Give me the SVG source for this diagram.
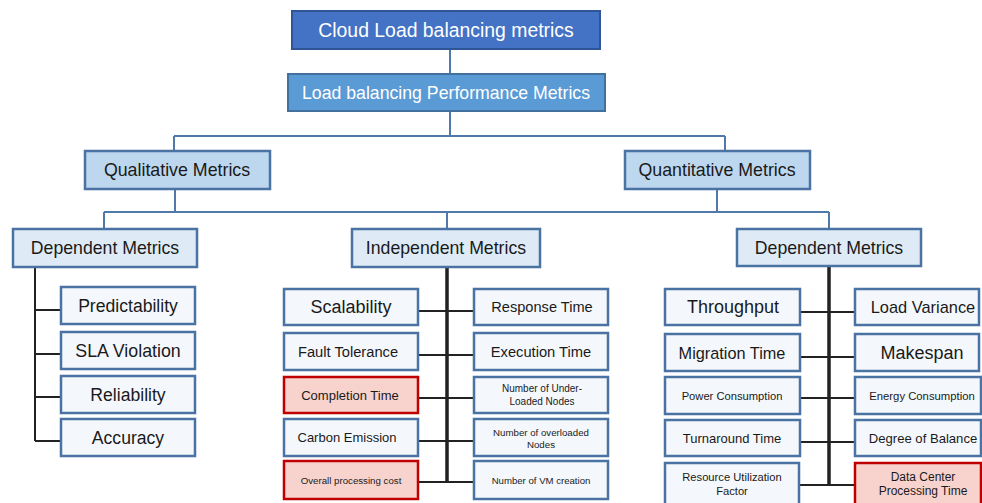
<svg xmlns="http://www.w3.org/2000/svg" width="982" height="503" viewBox="0 0 982 503">
<style>
text{font-family:"Liberation Sans",Arial,sans-serif;fill:#1a1a1a;text-anchor:middle;dominant-baseline:central}
.l0{fill:#4472c4;stroke:#2f5597;stroke-width:2}
.l1{fill:#5b9bd5;stroke:#41719c;stroke-width:2}
.l2{fill:#bdd7ee;stroke:#4a72a3;stroke-width:2.5}
.l3{fill:#deebf7;stroke:#4a72a3;stroke-width:2.5}
.lf{fill:#f4f8fc;stroke:#4a72a3;stroke-width:2.5}
.pk{fill:#f8d3ce;stroke:#c00000;stroke-width:2.5}
.w{fill:#fff}
.cb{fill:none;stroke:#4f79a8;stroke-width:2}
.cd{fill:none;stroke:#222;stroke-width:2}
.tr{fill:none;stroke:#222;stroke-width:3.5}
</style>
<g id="connectors">
<path class="cb" d="M450 49V74M450 111V136M174 136H725M174 136V151M725 136V151"/>
<path class="cb" d="M175 189V212M717 189V212M104 212H829M104 212V229M447 212V229M829 212V229"/>
<path class="cd" d="M35 267V441M35 310H61M35 354H61M35 397H61M35 441H61"/>
<path class="tr" d="M447 267V483M829 266V485"/>
<path class="cd" d="M418 311H474M418 355H474M418 398H474M418 441H474M418 482H474"/>
<path class="cd" d="M800 312H855M800 357H855M800 398H855M800 442H855M800 485H855"/>
</g>
<g id="n-cloud"><rect class="l0" x="292" y="11" width="308" height="38"/><text class="w" x="446" y="30" font-size="19.4">Cloud Load balancing metrics</text></g>
<g id="n-perf"><rect class="l1" x="288" y="74" width="317" height="37"/><text class="w" x="446" y="92.5" font-size="17.7">Load balancing Performance Metrics</text></g>
<g id="n-qual"><rect class="l2" x="85" y="151" width="185" height="38"/><text x="177" y="170" font-size="17.8">Qualitative Metrics</text></g>
<g id="n-quant"><rect class="l2" x="625" y="151" width="185" height="38"/><text x="717" y="170" font-size="17.8">Quantitative Metrics</text></g>
<g id="n-dep1"><rect class="l3" x="13" y="229" width="184" height="38"/><text x="105" y="248" font-size="17.7">Dependent Metrics</text></g>
<g id="n-indep"><rect class="l3" x="352" y="229" width="188" height="38"/><text x="446" y="248" font-size="17.7">Independent Metrics</text></g>
<g id="n-dep2"><rect class="l3" x="737" y="229" width="184" height="37"/><text x="829" y="247.5" font-size="17.7">Dependent Metrics</text></g>
<g id="n-predict"><rect class="lf" x="61" y="287" width="134" height="37"/><text x="128" y="305.5" font-size="17.6">Predictability</text></g>
<g id="n-sla"><rect class="lf" x="61" y="332" width="134" height="37"/><text x="128" y="350.5" font-size="17.8">SLA Violation</text></g>
<g id="n-rel"><rect class="lf" x="61" y="376" width="134" height="37"/><text x="128" y="394.5" font-size="17.6">Reliability</text></g>
<g id="n-acc"><rect class="lf" x="61" y="419" width="134" height="37"/><text x="128" y="437.5" font-size="17.6">Accuracy</text></g>
<g id="n-scal"><rect class="lf" x="284" y="289" width="134" height="36"/><text x="351" y="307" font-size="18">Scalability</text></g>
<g id="n-fault"><rect class="lf" x="284" y="333" width="134" height="37"/><text x="348" y="351.5" font-size="14.7">Fault Tolerance</text></g>
<g id="n-compl"><rect class="pk" x="284" y="377" width="134" height="36"/><text x="350" y="395" font-size="13">Completion Time</text></g>
<g id="n-carbon"><rect class="lf" x="284" y="419" width="134" height="37"/><text x="347" y="437.5" font-size="13">Carbon Emission</text></g>
<g id="n-cost"><rect class="pk" x="284" y="461" width="134" height="38"/><text x="351" y="480" font-size="9.7">Overall processing cost</text></g>
<g id="n-resp"><rect class="lf" x="474" y="289" width="134" height="36"/><text x="542" y="307" font-size="14.6">Response Time</text></g>
<g id="n-exec"><rect class="lf" x="474" y="333" width="134" height="37"/><text x="541" y="351.5" font-size="14.7">Execution Time</text></g>
<g id="n-under"><rect class="lf" x="474" y="377" width="134" height="36"/><text x="542" y="388" font-size="10">Number of Under-</text><text x="542" y="401" font-size="10">Loaded Nodes</text></g>
<g id="n-over"><rect class="lf" x="474" y="419" width="134" height="37"/><text x="541" y="432" font-size="9.7">Number of overloaded</text><text x="541" y="444" font-size="9.7">Nodes</text></g>
<g id="n-vm"><rect class="lf" x="474" y="461" width="134" height="38"/><text x="541" y="480" font-size="9.6">Number of VM creation</text></g>
<g id="n-thru"><rect class="lf" x="665" y="289" width="135" height="36"/><text x="733" y="307" font-size="18">Throughput</text></g>
<g id="n-migr"><rect class="lf" x="665" y="334" width="135" height="37"/><text x="732" y="352.5" font-size="16.3">Migration Time</text></g>
<g id="n-power"><rect class="lf" x="665" y="377" width="135" height="37"/><text x="732" y="395.5" font-size="11.2">Power Consumption</text></g>
<g id="n-turn"><rect class="lf" x="665" y="420" width="135" height="36"/><text x="732" y="438" font-size="13">Turnaround Time</text></g>
<g id="n-res"><rect class="lf" x="665" y="463" width="134" height="44"/><text x="732" y="477" font-size="11.2">Resource Utilization</text><text x="732" y="491" font-size="11.2">Factor</text></g>
<g id="n-var"><rect class="lf" x="855" y="289" width="124" height="36"/><text x="923" y="307" font-size="16.4">Load Variance</text></g>
<g id="n-make"><rect class="lf" x="855" y="334" width="124" height="37"/><text x="922" y="352.5" font-size="18">Makespan</text></g>
<g id="n-energy"><rect class="lf" x="855" y="377" width="126" height="37"/><text x="922" y="395.5" font-size="11.3">Energy Consumption</text></g>
<g id="n-deg"><rect class="lf" x="855" y="420" width="126" height="36"/><text x="923" y="438" font-size="13.1">Degree of Balance</text></g>
<g id="n-dc"><rect class="pk" x="855" y="463" width="126" height="44"/><text x="923" y="477" font-size="12">Data Center</text><text x="923" y="491" font-size="12">Processing Time</text></g>
</svg>
